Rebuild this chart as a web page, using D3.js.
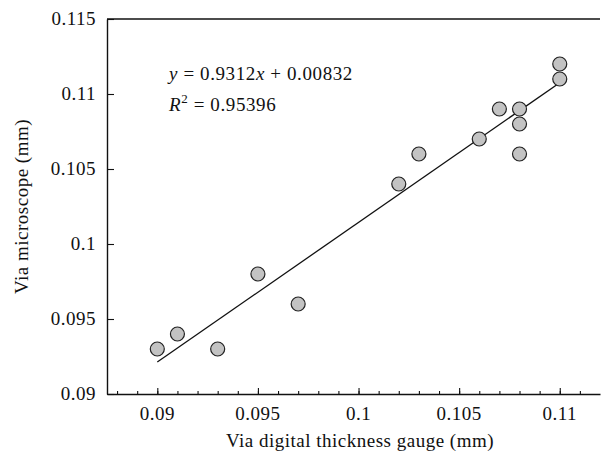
<!DOCTYPE html>
<html lang="en">
<head>
<meta charset="UTF-8" />
<script src="https://cdnjs.cloudflare.com/ajax/libs/d3/7.8.5/d3.min.js"></script>
<title>Microscope vs gauge</title>
<style>
body { margin: 0; background: #fff; }
text { font-family: "Liberation Serif", "Times New Roman", serif; fill: #111; font-size: 19px; letter-spacing: 0.5px; }
</style>
</head>
<body>
<svg id="chart" width="601" height="453"></svg>
<script>

// data (mm)
const gauge      = [0.090, 0.091, 0.093, 0.095, 0.097, 0.102, 0.103, 0.106, 0.107, 0.108, 0.108, 0.108, 0.110, 0.110];
const microscope = [0.093, 0.094, 0.093, 0.098, 0.096, 0.104, 0.106, 0.107, 0.109, 0.109, 0.108, 0.106, 0.112, 0.111];
const xTicks = [0.09, 0.095, 0.1, 0.105, 0.11];
const yTicks = [0.09, 0.095, 0.1, 0.105, 0.11, 0.115];
const fitSlope = 0.9312;
const fitIntercept = 0.00832;
const fitRange = [0.09, 0.11];

const svg = d3.select('#chart');
const plotLeft = 107, plotTop = 19, plotBottom = 394, plotRight = 600;

const x = d3.scaleLinear().domain([0.0875, 0.112]).range([plotLeft, plotRight]);
const y = d3.scaleLinear().domain([0.09, 0.115]).range([plotBottom, plotTop]);

const fmt = d => String(+d.toFixed(3));

// frame: top line, open on the right
svg.append('line')
  .attr('x1', plotLeft).attr('x2', plotRight).attr('y1', plotTop).attr('y2', plotTop)
  .attr('stroke', '#111').attr('stroke-width', 1.4);

// x axis: minor ticks every 0.001, majors labelled
const minor = d3.range(88, 112).map(v => v / 1000);
const xMinor = svg.append('g').attr('transform', `translate(0,${plotBottom})`)
  .call(d3.axisTop(x).tickValues(minor).tickSize(3).tickFormat(''));
xMinor.select('.domain').remove();
const xMajor = svg.append('g').attr('transform', `translate(0,${plotBottom})`)
  .call(d3.axisTop(x).tickValues(xTicks).tickSize(6).tickSizeOuter(0).tickFormat(''));
xMajor.select('.domain').attr('stroke', '#111').attr('stroke-width', 1.4);

svg.append('g').selectAll('text').data(xTicks).join('text')
  .attr('x', d => x(d)).attr('y', 420)
  .attr('text-anchor', 'middle')
  .text(fmt);

// y axis
const yAxisG = svg.append('g').attr('transform', `translate(${plotLeft},0)`)
  .call(d3.axisRight(y).tickValues(yTicks).tickSize(7).tickSizeOuter(0).tickFormat(''));
yAxisG.select('.domain').attr('stroke', '#111').attr('stroke-width', 1.4);
svg.selectAll('.tick line').attr('stroke', '#111').attr('stroke-width', 1.1);

svg.append('g').selectAll('text').data(yTicks).join('text')
  .attr('x', 96).attr('y', d => y(d) + 6)
  .attr('text-anchor', 'end')
  .text(fmt);

// titles
svg.append('text')
  .attr('x', 360).attr('y', 447)
  .attr('text-anchor', 'middle')
  .text('Via digital thickness gauge (mm)');

svg.append('text')
  .attr('transform', `translate(28,${(plotTop + plotBottom) / 2}) rotate(-90)`)
  .attr('text-anchor', 'middle')
  .text('Via microscope (mm)');

// regression line
svg.append('line')
  .attr('x1', x(fitRange[0])).attr('y1', y(fitSlope * fitRange[0] + fitIntercept))
  .attr('x2', x(fitRange[1])).attr('y2', y(fitSlope * fitRange[1] + fitIntercept))
  .attr('stroke', '#111').attr('stroke-width', 1.3);

// points
svg.append('g').selectAll('circle').data(gauge).join('circle')
  .attr('cx', d => x(d))
  .attr('cy', (d, i) => y(microscope[i]))
  .attr('r', 7)
  .attr('fill', '#c3c3c3')
  .attr('stroke', '#222')
  .attr('stroke-width', 1.2);

// equation
const eq = svg.append('text').attr('x', 169).attr('y', 80).style('letter-spacing', '0.6px');
eq.append('tspan').style('font-style', 'italic').text('y');
eq.append('tspan').text(' = ' + fitSlope);
eq.append('tspan').style('font-style', 'italic').text('x');
eq.append('tspan').text(' + ' + fitIntercept);

const r2 = svg.append('text').attr('x', 169).attr('y', 111).style('letter-spacing', '0.6px');
r2.append('tspan').style('font-style', 'italic').text('R');
r2.append('tspan').attr('dy', -8).style('font-size', '13px').text('2');
r2.append('tspan').attr('dy', 8).text(' = 0.95396');

</script>
</body>
</html>
